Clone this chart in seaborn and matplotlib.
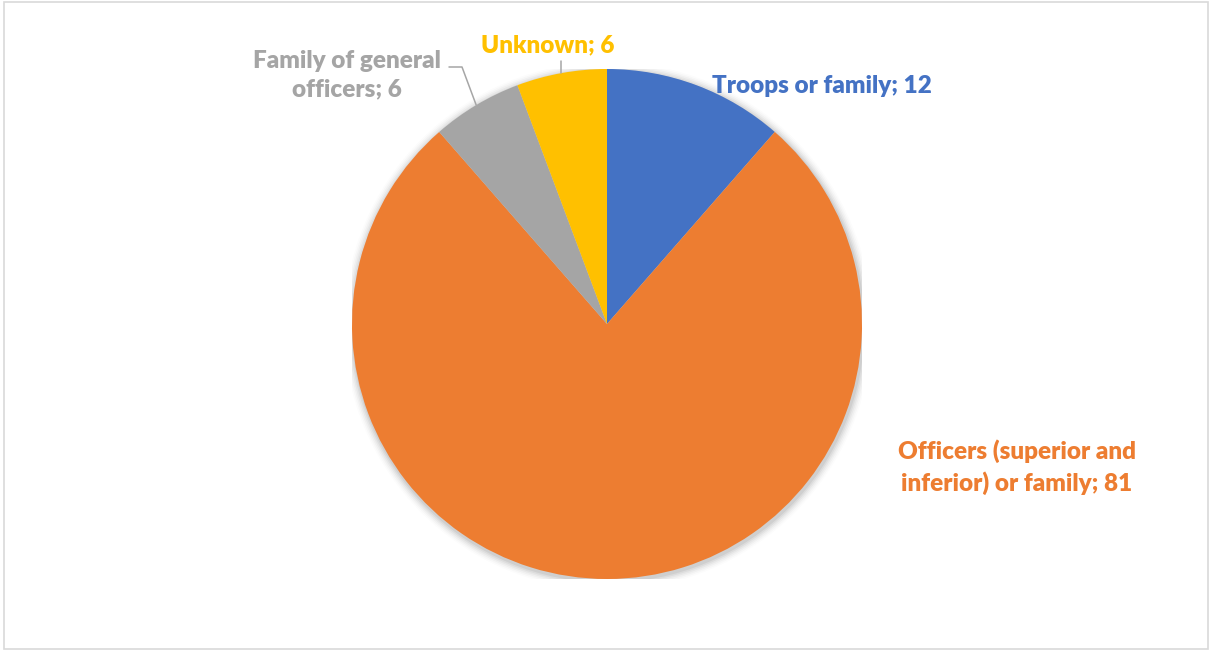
import matplotlib
matplotlib.use("Agg")
import matplotlib.pyplot as plt
import numpy as np
import seaborn as sns
from matplotlib.patches import Circle, Rectangle

sns.set_theme(style="white")
plt.rcParams["font.family"] = ["Lato", "DejaVu Sans"]

categories = ["Troops or family", "Officers (superior and\ninferior) or family",
              "Family of general\nofficers", "Unknown"]
values = [12, 81, 6, 6]
colors = ["#4472C4", "#ED7D31", "#A5A5A5", "#FFC000"]

W, H = 1212, 650
fig = plt.figure(figsize=(W / 100, H / 100), dpi=100)
fig.patch.set_facecolor("white")

# chart border
fig.add_artist(Rectangle((4 / W, 1 / H), (W - 8) / W, (H - 3) / H,
                         transform=fig.transFigure, fill=False,
                         edgecolor="#D9D9D9", linewidth=1.2))

cx, cy, r = 607, 324, 255
ax = fig.add_axes([(cx - r) / W, (H - cy - r) / H, 2 * r / W, 2 * r / H])

def px(x, y):
    """Pixel position (from top-left) to pie data coordinates."""
    return (x - cx) / r, (cy - y) / r

# soft shadow beneath the pie
for i, a in enumerate(np.linspace(0.05, 0.012, 6)):
    ax.add_patch(Circle((0.004, -0.008), 1.0 + 0.006 * (i + 1),
                        color="black", alpha=a, lw=0, zorder=0))

wedges, _ = ax.pie(values, colors=colors, startangle=90, counterclock=False,
                   radius=1.0, wedgeprops=dict(linewidth=0))
for w in wedges:
    w.set_zorder(2)

ax.set_xlim(-1, 1)
ax.set_ylim(-1, 1)
ax.set_aspect("equal")
ax.axis("off")

def edge_point(w, rad=1.0):
    ang = np.deg2rad((w.theta1 + w.theta2) / 2)
    return rad * np.cos(ang), rad * np.sin(ang)

labels = [f"{c}; {v}" for c, v in zip(categories, values)]
fs = 17.5
fw = "heavy"

# Troops
ax.text(*px(712, 86), labels[0], color=colors[0], fontsize=fs,
        fontweight=fw, ha="left", va="center", zorder=5)
# Officers
ax.text(*px(1017, 467), labels[1], color=colors[1], fontsize=fs,
        fontweight=fw, ha="center", va="center", linespacing=1.4, zorder=5)
# Family of general officers
ax.text(*px(441, 75), labels[2], color=colors[2], fontsize=fs,
        fontweight=fw, ha="right", va="center", multialignment="center",
        linespacing=1.35, zorder=5)
ex, ey = edge_point(wedges[2])
ax.plot([ex, px(462, 67)[0], px(449, 67)[0]],
        [ey, px(462, 67)[1], px(449, 67)[1]],
        color="#A6A6A6", lw=1.1, clip_on=False, zorder=4)
# Unknown
ax.text(*px(548, 45), labels[3], color=colors[3], fontsize=fs,
        fontweight=fw, ha="center", va="center", zorder=5)
ux, uy = edge_point(wedges[3])
ax.plot([ux, ux], [uy, px(0, 61)[1]], color="#A6A6A6", lw=1.1,
        clip_on=False, zorder=4)

fig.savefig("out.png", dpi=100, facecolor="white")
